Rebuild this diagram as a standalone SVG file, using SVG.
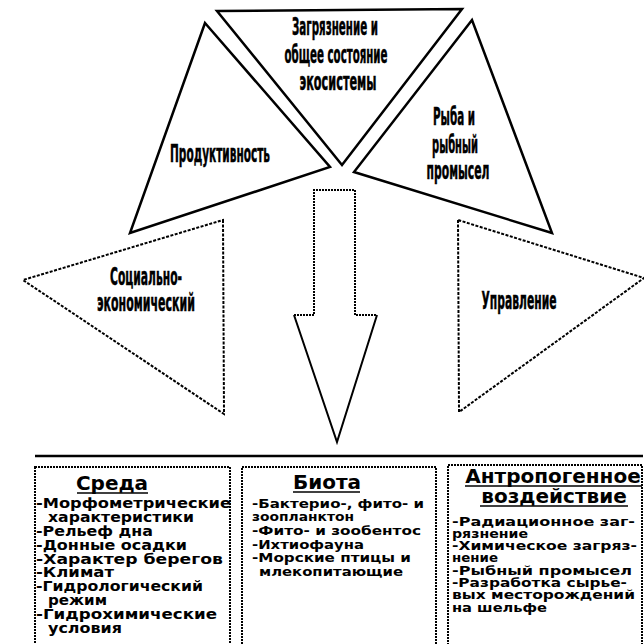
<svg xmlns="http://www.w3.org/2000/svg" width="644" height="644" viewBox="0 0 644 644">
<defs>
<style>
.bg{fill:#ffffff}
.tri{fill:#ffffff;stroke:#000;stroke-width:2.5;stroke-linejoin:miter}
.dtri{fill:#ffffff;stroke:#000;stroke-width:2;stroke-dasharray:3 1.5}
.shaft{fill:none;stroke:#000;stroke-width:2;stroke-dasharray:2 1}
.head{fill:none;stroke:#000;stroke-width:2}
.box{fill:#ffffff;stroke:#000;stroke-width:2;stroke-dasharray:2 1}
.rule{stroke:#000;stroke-width:2.5}
.ul{stroke:#000;stroke-width:1.6}
.lbl{font-family:"Liberation Sans Narrow","DejaVu Sans Condensed","Liberation Sans",sans-serif;font-weight:bold;font-size:24px;fill:#000;text-anchor:middle;stroke:#000;stroke-width:0.5}
.ttl{font-family:"DejaVu Sans","Liberation Sans",sans-serif;font-weight:bold;font-size:20px;fill:#000;text-anchor:middle}
.txt{font-family:"DejaVu Sans","Liberation Sans",sans-serif;font-weight:bold;font-size:14px;fill:#000}
.t14{font-size:14px}
.t13{font-size:13px}
</style>
</defs>
<rect class="bg" x="0" y="0" width="644" height="644"/>

<g id="node-produktivnost">
<polygon class="tri" points="205,23 330,167 130,233"/>
<text class="lbl" x="220" y="162" textLength="100" lengthAdjust="spacingAndGlyphs">Продуктивность</text>
</g>

<g id="node-ryba">
<polygon class="tri" points="472,20 354,172 552,233"/>
<text class="lbl" x="454" y="125" textLength="42" lengthAdjust="spacingAndGlyphs">Рыба и</text>
<text class="lbl" x="455" y="153" textLength="46" lengthAdjust="spacingAndGlyphs">рыбный</text>
<text class="lbl" x="458" y="179" textLength="63" lengthAdjust="spacingAndGlyphs">промысел</text>
</g>

<g id="node-zagryaznenie">
<polygon class="tri" points="217,11 462,9 342,165"/>
<text class="lbl" x="335" y="35" textLength="86" lengthAdjust="spacingAndGlyphs">Загрязнение и</text>
<text class="lbl" x="336" y="63" textLength="103" lengthAdjust="spacingAndGlyphs">общее состояние</text>
<text class="lbl" x="338" y="90" textLength="77" lengthAdjust="spacingAndGlyphs">экосистемы</text>
</g>

<g id="node-socialno">
<polygon class="dtri" points="223,220 224,414 23,280"/>
<text class="lbl" x="146" y="285" textLength="72" lengthAdjust="spacingAndGlyphs">Социально-</text>
<text class="lbl" x="146" y="311" textLength="98" lengthAdjust="spacingAndGlyphs">экономический</text>
</g>

<g id="node-upravlenie">
<polygon class="dtri" points="458,220 459,412 644,278"/>
<text class="lbl" x="519" y="309" textLength="75" lengthAdjust="spacingAndGlyphs">Управление</text>
</g>

<g id="connectors">
<polygon points="294,315 314,315 314,190 355,190 355,315 377,315 337,442" fill="#ffffff"/>
<path class="shaft" d="M294,315 H314 V190 H355 V315 H377"/>
<path class="head" d="M294,315 L337,442 L377,315"/>
<line class="rule" x1="35" y1="456" x2="643" y2="456"/>
</g>

<g id="node-sreda">
<rect class="box" x="35" y="467" width="195" height="190"/>
<text class="ttl" x="112" y="490">Среда</text>
<line class="ul" x1="77" y1="493" x2="148" y2="493"/>
<text class="txt" x="36" y="508" textLength="195" lengthAdjust="spacingAndGlyphs">-Морфометрические</text>
<text class="txt" x="48" y="522" textLength="146" lengthAdjust="spacingAndGlyphs">характеристики</text>
<text class="txt" x="36" y="536" textLength="117" lengthAdjust="spacingAndGlyphs">-Рельеф дна</text>
<text class="txt" x="36" y="550" textLength="151" lengthAdjust="spacingAndGlyphs">-Донные осадки</text>
<text class="txt" x="36" y="564" textLength="187" lengthAdjust="spacingAndGlyphs">-Характер берегов</text>
<text class="txt" x="36" y="577" textLength="78" lengthAdjust="spacingAndGlyphs">-Климат</text>
<text class="txt" x="36" y="591" textLength="167" lengthAdjust="spacingAndGlyphs">-Гидрологический</text>
<text class="txt" x="48" y="605" textLength="59" lengthAdjust="spacingAndGlyphs">режим</text>
<text class="txt" x="36" y="619" textLength="181" lengthAdjust="spacingAndGlyphs">-Гидрохимические</text>
<text class="txt" x="48" y="633" textLength="74" lengthAdjust="spacingAndGlyphs">условия</text>
</g>

<g id="node-biota">
<rect class="box" x="242" y="467" width="194" height="190"/>
<text class="ttl" x="327" y="489">Биота</text>
<line class="ul" x1="293" y1="492" x2="360" y2="492"/>
<text class="txt t13" x="252" y="508" textLength="172" lengthAdjust="spacingAndGlyphs">-Бактерио-, фито- и</text>
<text class="txt t13" x="252" y="521" textLength="102" lengthAdjust="spacingAndGlyphs">зоопланктон</text>
<text class="txt t13" x="252" y="535" textLength="169" lengthAdjust="spacingAndGlyphs">-Фито- и зообентос</text>
<text class="txt t13" x="252" y="549" textLength="112" lengthAdjust="spacingAndGlyphs">-Ихтиофауна</text>
<text class="txt t13" x="252" y="562" textLength="159" lengthAdjust="spacingAndGlyphs">-Морские птицы и</text>
<text class="txt t13" x="259" y="576" textLength="144" lengthAdjust="spacingAndGlyphs">млекопитающие</text>
</g>

<g id="node-antropogen">
<rect class="box" x="448" y="465" width="194" height="190"/>
<text class="ttl" x="553" y="483">Антропогенное</text>
<line class="ul" x1="465" y1="486" x2="642" y2="486"/>
<text class="ttl" x="554" y="503">воздействие</text>
<line class="ul" x1="480" y1="506" x2="628" y2="506"/>
<text class="txt t13" x="452" y="526" textLength="183" lengthAdjust="spacingAndGlyphs">-Радиационное заг-</text>
<text class="txt t13" x="452" y="538" textLength="76" lengthAdjust="spacingAndGlyphs">рязнение</text>
<text class="txt t13" x="452" y="550" textLength="185" lengthAdjust="spacingAndGlyphs">-Химическое загряз-</text>
<text class="txt t13" x="452" y="562" textLength="46" lengthAdjust="spacingAndGlyphs">нение</text>
<text class="txt t13" x="452" y="575" textLength="180" lengthAdjust="spacingAndGlyphs">-Рыбный промысел</text>
<text class="txt t13" x="452" y="587" textLength="175" lengthAdjust="spacingAndGlyphs">-Разработка сырье-</text>
<text class="txt t13" x="452" y="599" textLength="183" lengthAdjust="spacingAndGlyphs">вых месторождений</text>
<text class="txt t13" x="452" y="612" textLength="95" lengthAdjust="spacingAndGlyphs">на шельфе</text>
</g>
</svg>
